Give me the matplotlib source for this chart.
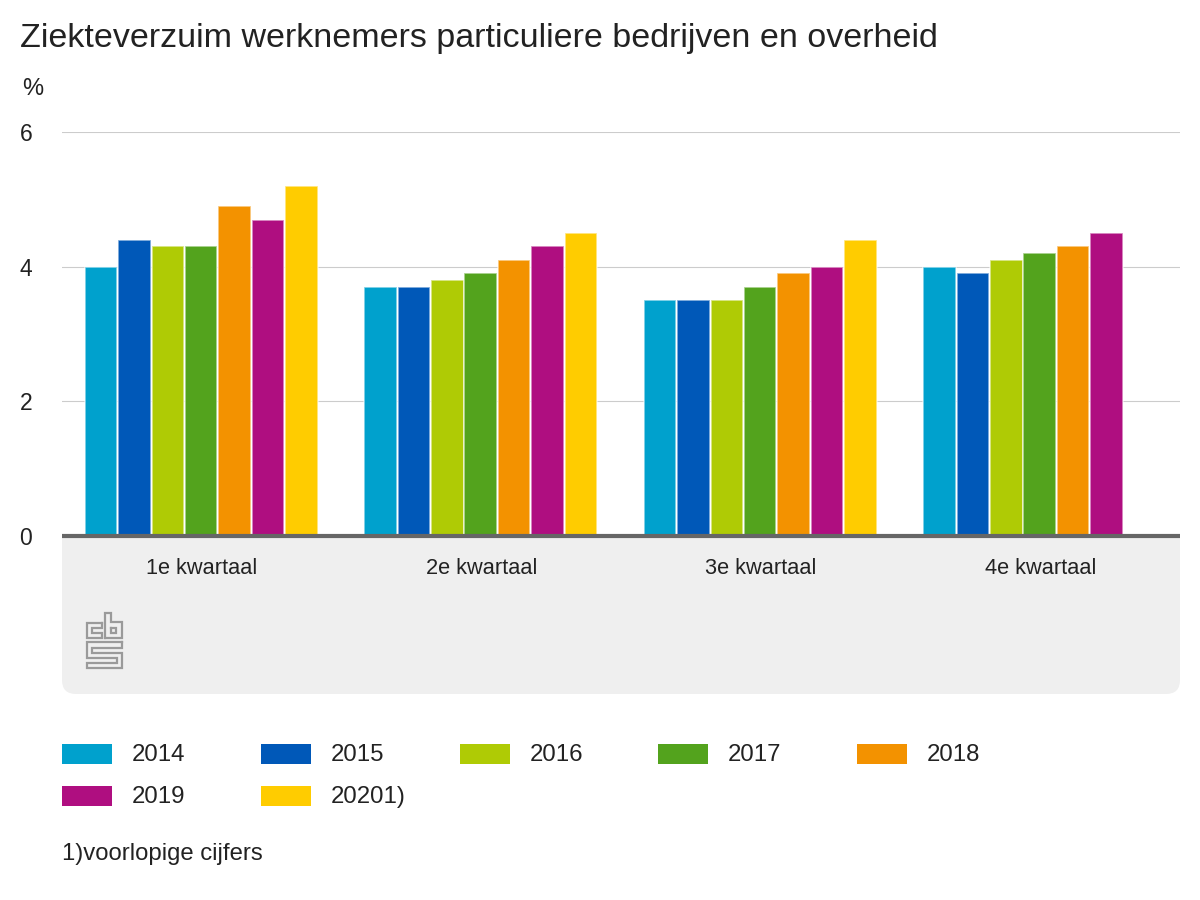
import numpy as np
import matplotlib
matplotlib.use("Agg")
import matplotlib.pyplot as plt
from matplotlib.patches import PathPatch, Rectangle
from matplotlib.path import Path
from matplotlib.lines import Line2D

plt.rcParams['font.family'] = ['Liberation Sans', 'DejaVu Sans']

TITLE = "Ziekteverzuim werknemers particuliere bedrijven en overheid"
quarters = ["1e kwartaal", "2e kwartaal", "3e kwartaal", "4e kwartaal"]
series_names = ["2014", "2015", "2016", "2017", "2018", "2019", "20201)"]
v2014 = [4.0, 3.7, 3.5, 4.0]
v2015 = [4.4, 3.7, 3.5, 3.9]
v2016 = [4.3, 3.8, 3.5, 4.1]
v2017 = [4.3, 3.9, 3.7, 4.2]
v2018 = [4.9, 4.1, 3.9, 4.3]
v2019 = [4.7, 4.3, 4.0, 4.5]
v2020 = [5.2, 4.5, 4.4, np.nan]
all_series = [v2014, v2015, v2016, v2017, v2018, v2019, v2020]
colors = ["#00A1CD", "#0058B8", "#AFCB05", "#53A31D", "#F39200", "#AF0E80", "#FFCC00"]
yticks = [0, 2, 4, 6]
FOOTNOTE = "1)voorlopige cijfers"

W, H = 1200, 900
TXT = "#222222"


def fx(x):
    return x / W


def fy(y):
    return 1 - y / H


fig = plt.figure(figsize=(12, 9), dpi=100, facecolor="white")
tf = fig.transFigure

# grey panel below the baseline with rounded lower corners
L, R, T, B, r = fx(62), fx(1180), fy(536), fy(694), 14
rx, ry = r / W, r / H
verts = [(L, T), (R, T), (R, B + ry), (R, B), (R - rx, B), (L + rx, B), (L, B), (L, B + ry), (L, T)]
codes = [Path.MOVETO, Path.LINETO, Path.LINETO, Path.CURVE3, Path.CURVE3,
         Path.LINETO, Path.CURVE3, Path.CURVE3, Path.CLOSEPOLY]
fig.add_artist(PathPatch(Path(verts, codes), transform=tf, facecolor="#EFEFEF", edgecolor="none", zorder=0))

ax = fig.add_axes([L, fy(536), R - L, fy(132) - fy(536)])
ax.patch.set_alpha(0)
ax.set_xlim(-0.5, 3.5)
ax.set_ylim(0, 6)
pitch = 0.1195
bw = 0.1165
x = np.arange(len(quarters)) - 0.002
for i, (vals, c) in enumerate(zip(all_series, colors)):
    ax.bar(x + (i - 3) * pitch, vals, width=bw, color=c, zorder=3,
           edgecolor=(1, 1, 1, 0.6), linewidth=1.2)

ax.set_yticks(yticks)
ax.set_yticklabels([str(t) for t in yticks], fontsize=16.5, color=TXT)
ax.set_xticks(x + 0.002)
ax.set_xticklabels(quarters, fontsize=15.7, color=TXT)
ax.tick_params(axis="x", length=0, pad=16)
ax.tick_params(axis="y", length=0, pad=0)
for lab in ax.get_yticklabels():
    lab.set_horizontalalignment("center")
    lab.set_x(-36 / 1118)
ax.grid(axis="y", color="#CCCCCC", linewidth=0.8, zorder=0)
ax.grid(axis="x", visible=False)
for s in ax.spines.values():
    s.set_visible(False)
ax.spines["bottom"].set_visible(True)
ax.spines["bottom"].set_color("#666666")
ax.spines["bottom"].set_linewidth(3)
ax.spines["bottom"].set_zorder(5)
ax.spines["bottom"].set_capstyle("butt")

fig.text(fx(20), fy(38), TITLE, fontsize=24.45, color=TXT, va="center", ha="left")
fig.text(fx(33), fy(89), "%", fontsize=17, color=TXT, va="center", ha="center")

# legend
col_x = [62, 261, 460, 658, 857]
row_y = [754, 796]
for i, (name, c) in enumerate(zip(series_names, colors)):
    cx = col_x[i % 5]
    cy = row_y[i // 5]
    fig.add_artist(Rectangle((fx(cx), fy(cy + 10)), 50 / W, 20 / H, transform=tf, facecolor=c, edgecolor="none"))
    fig.text(fx(cx + 70), fy(cy + 1), name, fontsize=17.3, color=TXT, va="center", ha="left")

fig.text(fx(62), fy(854), FOOTNOTE, fontsize=17.2, color=TXT, va="center", ha="left")

# CBS logo outline
logo = [
    [(102, 623), (87, 623), (87, 638), (102, 638), (102, 633), (92, 633), (92, 628), (102, 628), (102, 623)],
    [(105, 638), (105, 613), (110.5, 613), (110.5, 622), (122, 622), (122, 638), (105, 638)],
    [(110.5, 627.5), (116, 627.5), (116, 633), (110.5, 633), (110.5, 627.5)],
    [(122, 642), (87, 642), (87, 658), (117, 658), (117, 663), (87, 663), (87, 668), (122, 668),
     (122, 653), (92, 653), (92, 648), (122, 648), (122, 642)],
]
for pts in logo:
    xs, ys = zip(*pts)
    fig.add_artist(Line2D([fx(a) for a in xs], [fy(b) for b in ys], transform=tf,
                          color="#9A9A9A", linewidth=1.6, solid_joinstyle="miter"))

fig.savefig("out.png", dpi=100, facecolor="white")
